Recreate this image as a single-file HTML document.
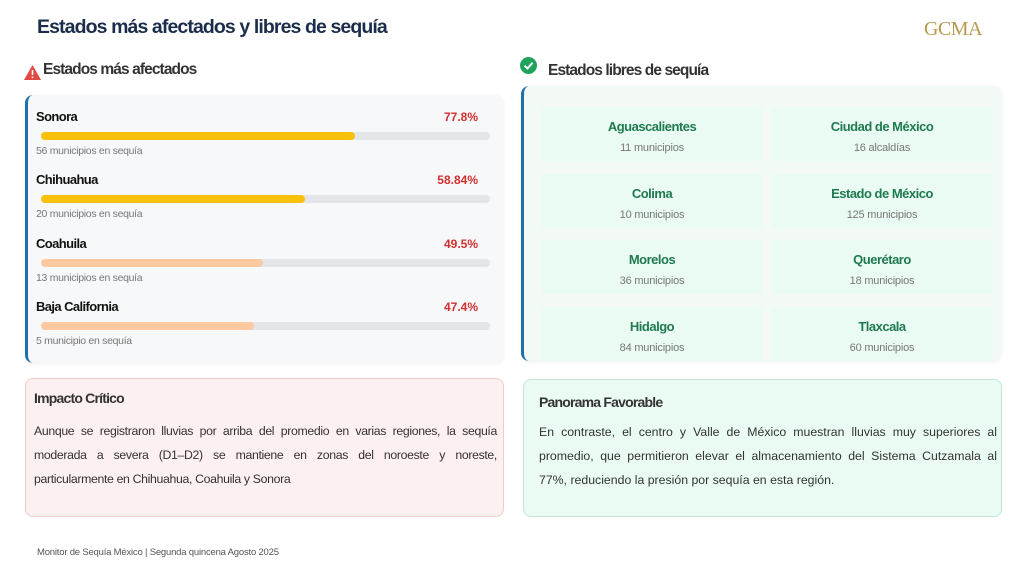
<!DOCTYPE html>
<html><head><meta charset="utf-8">
<style>
*{margin:0;padding:0;box-sizing:border-box}
body{width:1024px;height:566px;background:#fff;font-family:"Liberation Sans",sans-serif;position:relative;overflow:hidden}
.abs{position:absolute}
.card{position:absolute;border-radius:8px}
.row-name{position:absolute;left:36px;font-weight:bold;font-size:13px;color:#111;letter-spacing:-0.6px}
.row-pct{position:absolute;right:546px;font-weight:bold;font-size:12px;color:#d32f2f;text-align:right}
.track{position:absolute;left:41px;width:449px;height:8px;border-radius:4px;background:#e3e5e8}
.fill{position:absolute;left:0;top:0;height:8px;border-radius:4px}
.row-sub{position:absolute;left:36px;font-size:10.5px;color:#777;letter-spacing:-0.3px}
.cell{position:absolute;width:220px;height:54px;background:#eafbf3;text-align:center}
.cname{font-weight:bold;font-size:13px;color:#1f7a4f;letter-spacing:-0.5px;margin-top:12px}
.csub{font-size:11px;color:#777;margin-top:8px;letter-spacing:-0.2px}
.para{position:absolute;font-size:12.3px;color:#333;line-height:24px;text-align:justify;letter-spacing:-0.35px}
</style></head><body>
<div class="abs" style="left:37px;top:16px;font-size:19.5px;font-weight:bold;color:#1b2d4b;letter-spacing:-0.9px">Estados más afectados y libres de sequía</div>
<div class="abs" style="left:924px;top:18px;font-family:'Liberation Serif',serif;font-size:20px;color:#b89a4e;letter-spacing:-0.5px">GCMA</div>

<svg class="abs" style="left:24px;top:65px" width="17" height="15"><polygon points="8.5,0 17,15 0,15" fill="#e04a45"/><rect x="7.7" y="5" width="1.6" height="5" fill="#fff"/><rect x="7.7" y="11.5" width="1.6" height="1.6" fill="#fff"/></svg>
<div class="abs" style="left:43px;top:61px;font-size:15.5px;font-weight:bold;color:#333;letter-spacing:-0.9px">Estados más afectados</div>

<div class="card" style="left:25px;top:95px;width:479px;height:268px;background:#f7f8f9;border-left:3px solid #1f6fa8;box-shadow:0 1px 3px rgba(0,0,0,0.06)"></div>
<div id="rows"></div>

<svg class="abs" style="left:520px;top:57px" width="17" height="17"><circle cx="8.5" cy="8.5" r="8.5" fill="#1fa35c"/><polyline points="4.5,8.8 7.5,11.5 12.5,5.8" fill="none" stroke="#fff" stroke-width="2"/></svg>
<div class="abs" style="left:548px;top:62px;font-size:15.5px;font-weight:bold;color:#333;letter-spacing:-0.9px">Estados libres de sequía</div>
<div class="card" style="left:521px;top:86px;width:481px;height:275px;background:#f3faf6;border-left:3px solid #1f6fa8;box-shadow:0 1px 3px rgba(0,0,0,0.06)"></div>
<div id="cells"></div>

<div class="card" style="left:25px;top:378px;width:479px;height:139px;background:#fdf0f0;border:1px solid #f3caca"></div>
<div class="abs" style="left:34px;top:390px;font-size:14px;font-weight:bold;color:#333;letter-spacing:-0.8px">Impacto Crítico</div>
<div class="para" style="left:34px;top:419px;width:463px">Aunque se registraron lluvias por arriba del promedio en varias regiones, la sequía moderada a severa (D1–D2) se mantiene en zonas del noroeste y noreste, particularmente en Chihuahua, Coahuila y Sonora</div>

<div class="card" style="left:523px;top:379px;width:479px;height:138px;background:#eafbf3;border:1px solid #bfe9d3"></div>
<div class="abs" style="left:539px;top:394px;font-size:14px;font-weight:bold;color:#333;letter-spacing:-0.8px">Panorama Favorable</div>
<div class="para" style="left:539px;top:420px;width:458px;letter-spacing:0px">En contraste, el centro y Valle de México muestran lluvias muy superiores al promedio, que permitieron elevar el almacenamiento del Sistema Cutzamala al 77%, reduciendo la presión por sequía en esta región.</div>

<div class="abs" style="left:37px;top:547px;font-size:9.5px;color:#555;letter-spacing:-0.2px">Monitor de Sequía México | Segunda quincena Agosto 2025</div>

<script>
const states = ["Sonora","Chihuahua","Coahuila","Baja California"];
const pctLabels = ["77.8%","58.84%","49.5%","47.4%"];
const barValues = [70, 58.84, 49.5, 47.4];
const barColors = ["#f9c00c","#f9c00c","#fcc9a0","#fcc9a0"];
const subLabels = ["56 municipios en sequía","20 municipios en sequía","13 municipios en sequía","5 municipio en sequía"];
const freeStates = ["Aguascalientes","Ciudad de México","Colima","Estado de México","Morelos","Querétaro","Hidalgo","Tlaxcala"];
const freeSubs = ["11 municipios","16 alcaldías","10 municipios","125 municipios","36 municipios","18 municipios","84 municipios","60 municipios"];

const rows = document.getElementById('rows');
const x = v => 449 * v / 100;
states.forEach((s,i)=>{
  const y0 = 109 + i*63.3;
  const n = document.createElement('div'); n.className='row-name'; n.style.top=y0+'px'; n.textContent=s;
  
  
  rows.appendChild(n);
  const p = document.createElement('div'); p.className='row-pct'; p.style.top=(y0+1)+'px'; p.textContent=pctLabels[i];
  
  
  rows.appendChild(p);
  const t = document.createElement('div'); t.className='track'; t.style.top=(y0+23)+'px';
  
  
  const f = document.createElement('div'); f.className='fill'; f.style.width=x(barValues[i])+'px'; f.style.background=barColors[i];
  
  
  t.appendChild(f); rows.appendChild(t);
  const sb = document.createElement('div'); sb.className='row-sub'; sb.style.top=(y0+36)+'px'; sb.textContent=subLabels[i];
  
  
  rows.appendChild(sb);
});
const cells = document.getElementById('cells');
freeStates.forEach((s,i)=>{
  const c = document.createElement('div'); c.className='cell';
  c.style.left = (542 + (i%2)*230)+'px';
  c.style.top = (107 + Math.floor(i/2)*66.5)+'px';
  
  
  c.innerHTML = '<div class="cname">'+s+'</div><div class="csub">'+freeSubs[i]+'</div>';
  cells.appendChild(c);
});
</script>
</body></html>
